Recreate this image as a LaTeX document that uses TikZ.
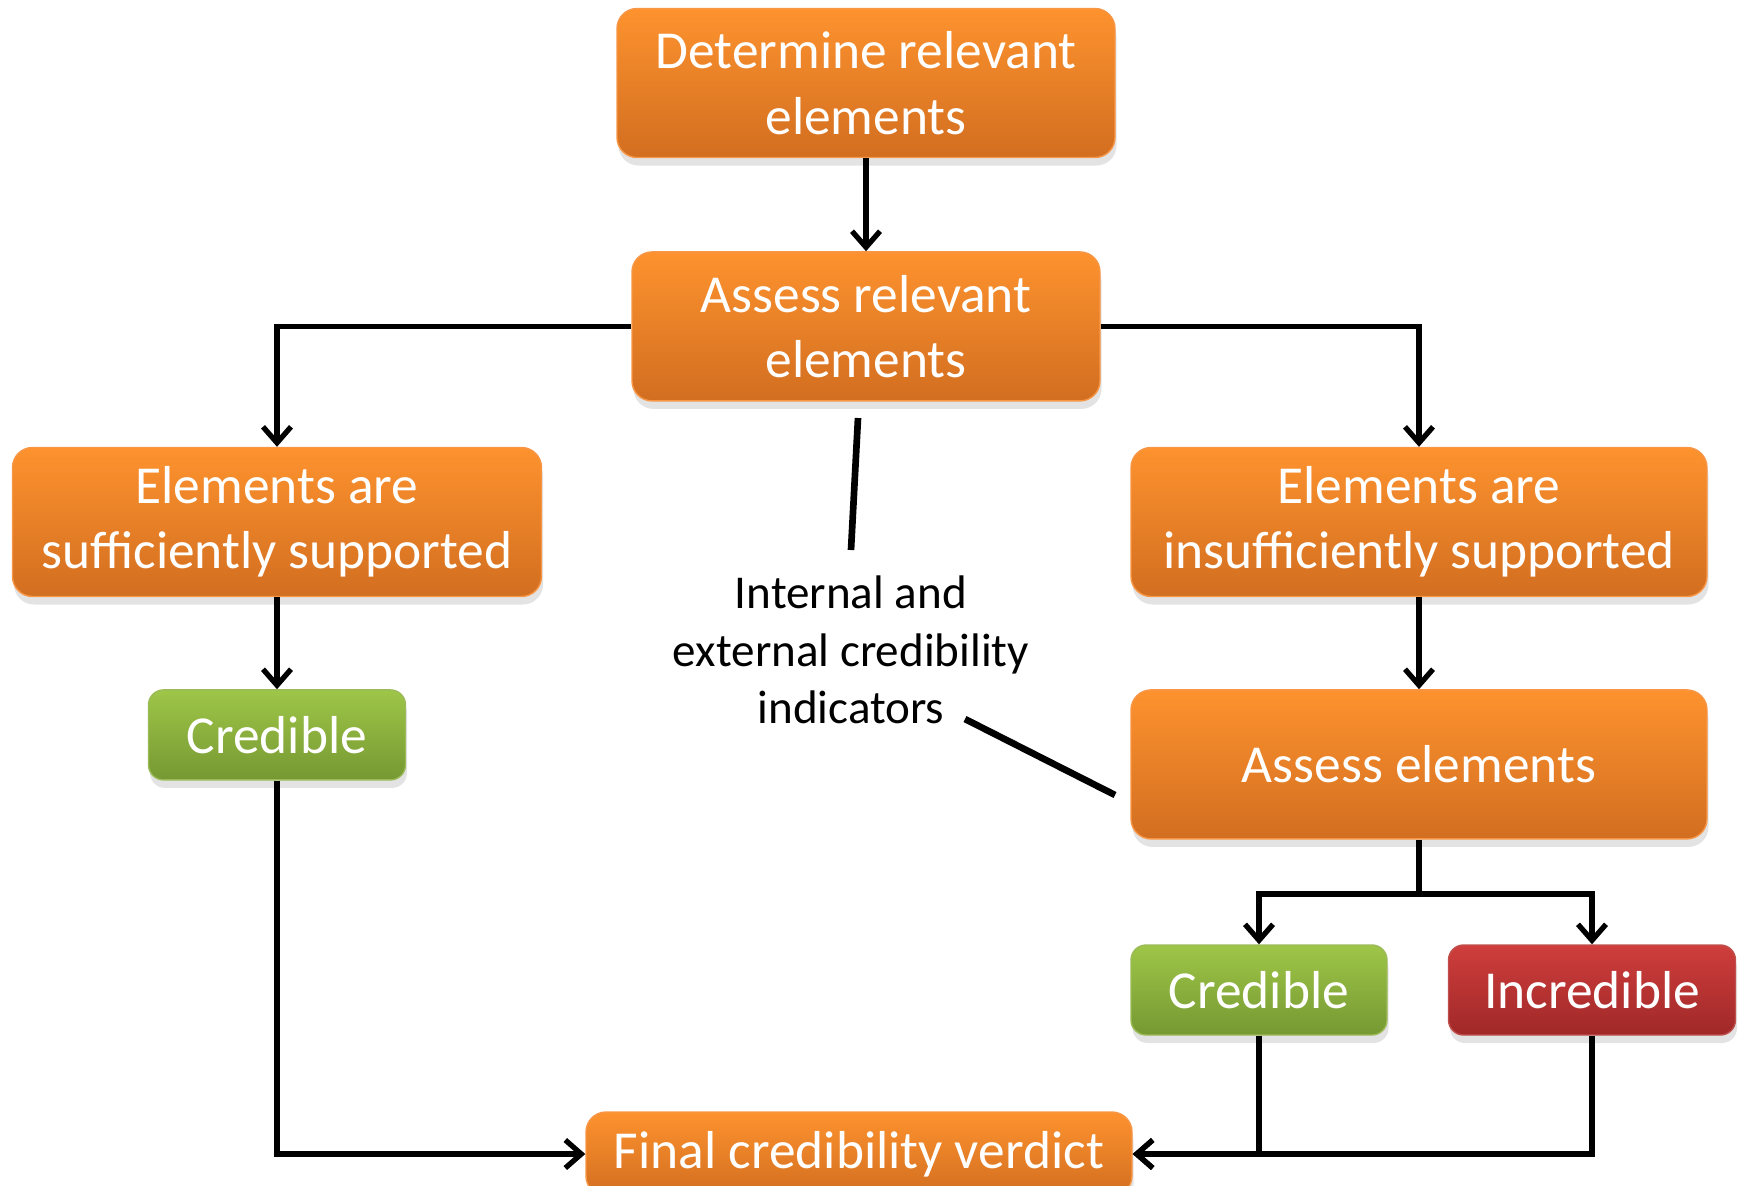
\documentclass[tikz,border=0pt]{standalone}
\usepackage{fontspec}
\setmainfont{Carlito}
\usetikzlibrary{positioning,arrows.meta,shadows}
\definecolor{orangetop}{RGB}{253,146,46}
\definecolor{orangebot}{RGB}{210,110,32}
\definecolor{orangeedge}{RGB}{247,150,70}
\definecolor{greentop}{RGB}{158,198,72}
\definecolor{greenbot}{RGB}{118,152,50}
\definecolor{greenedge}{RGB}{155,187,89}
\definecolor{redtop}{RGB}{206,62,60}
\definecolor{redbot}{RGB}{160,40,40}
\definecolor{rededge}{RGB}{192,80,77}
\tikzset{box/.style={rounded corners=0.2cm, text=white, align=center, inner sep=2pt, font=\fontsize{15.2}{18.6}\selectfont, drop shadow={opacity=0.22, shadow xshift=0.15mm, shadow yshift=-0.8mm}},
  main node/.style={box, top color=orangetop, bottom color=orangebot, draw=orangeedge, minimum height=1.49cm},
  green node/.style={box, rounded corners=0.15cm, top color=greentop, bottom color=greenbot, draw=greenedge, minimum height=0.9cm, minimum width=2.57cm},
  red node/.style={box, rounded corners=0.15cm, top color=redtop, bottom color=redbot, draw=rededge, minimum height=0.9cm, minimum width=2.87cm},
  link/.style={line width=1.5pt, -{Straight Barb[length=1.6mm,width=2.8mm]}},
  tick/.style={line width=1.9pt},}

\begin{document}
\begin{tikzpicture}
        \useasboundingbox (0,0) rectangle (17.40,-11.85);
        % Nodes
        \node[main node, minimum width=4.98cm] (determine) at (8.66,-0.83) {Determine relevant\\elements};
        \node[main node, minimum width=4.68cm] [below = 0.93cm of determine] (assess) {Assess relevant\\elements};
        \node[main node, minimum width=5.29cm] (sufficient) at (2.77,-5.22) {Elements are\\sufficiently supported};
        \node[main node, minimum width=5.76cm] (insufficient) at (14.19,-5.22) {Elements are\\insufficiently supported};
        \node[green node] [below = 0.92cm of sufficient] (credA) {Credible};
        \node[main node, minimum width=5.76cm] [below = 0.92cm of insufficient] (assessel) {Assess elements};
        \node[green node, minimum width=2.56cm] (credB) at (12.59,-9.90) {Credible};
        \node[red node] (incred) at (15.92,-9.90) {Incredible};
        \node[main node, minimum width=5.46cm, minimum height=0.84cm] (verdict) at (8.59,-11.54) {Final credibility verdict};
        \node[align=center, font=\fontsize{13.4}{16.4}\selectfont] (indicators) at (8.51,-6.50) {Internal and\\external credibility\\indicators};
        \coordinate (tickA1) at (8.58,-4.18);
        \coordinate (tickA2) at (8.51,-5.50);
        \coordinate (tickB1) at (9.65,-7.19);
        \coordinate (tickB2) at (11.15,-7.95);
        % Paths
        \draw[link] (determine) -- (assess);
        \draw[link] (assess.west) -| (sufficient.north);
        \draw[link] (assess.east) -| (insufficient.north);
        \draw[link] (sufficient) -- (credA);
        \draw[link] (insufficient) -- (assessel);
        \draw[line width=1.5pt] (assessel.south) -- ++(0,-0.545) coordinate (split);
        \draw[link] (split) -| (credB.north);
        \draw[link] (split) -| (incred.north);
        \draw[link] (credA.south) |- (verdict.west);
        \draw[link] (incred.south) |- (verdict.east);
        \draw[link] (credB.south) |- (verdict.east);
        \draw[tick] (tickA1) -- (tickA2);
        \draw[tick] (tickB1) -- (tickB2);
    \end{tikzpicture}
\end{document}
